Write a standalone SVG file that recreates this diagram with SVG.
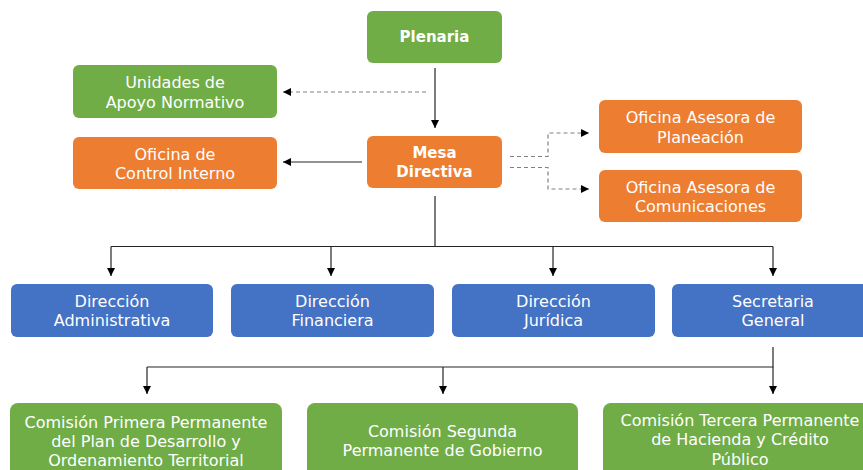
<svg xmlns="http://www.w3.org/2000/svg" width="863" height="470" viewBox="0 0 863 470">
<style>
.g{fill:#70AD47}.o{fill:#ED7D31}.b{fill:#4472C4}
text{font-family:"DejaVu Sans","Liberation Sans",sans-serif;font-size:16px;fill:#fff;text-anchor:middle;dominant-baseline:central}
.bold{font-weight:bold;font-size:15px}
.s{fill:none;stroke:#262626;stroke-width:1.2}
.d{fill:none;stroke:#808080;stroke-width:1.2;stroke-dasharray:4 3}
</style>
<defs>
<marker id="ah" viewBox="0 0 10 10" refX="10" refY="5" markerWidth="8" markerHeight="8" markerUnits="userSpaceOnUse" orient="auto"><path d="M0,0L10,5L0,10z" fill="#000"/></marker>
</defs>
<rect width="863" height="470" fill="#fff"/>
<g id="connectors">
<path class="s" d="M435,68V128" marker-end="url(#ah)"/>
<path class="d" d="M426,92H283" marker-end="url(#ah)"/>
<path class="s" d="M362,162H283" marker-end="url(#ah)"/>
<path class="d" d="M510,156.5H548V133H589" marker-end="url(#ah)"/>
<path class="d" d="M510,167.5H548V189H589" marker-end="url(#ah)"/>
<path class="s" d="M435,196V246.5"/>
<path class="s" d="M111,246.5H773"/>
<path class="s" d="M111,246.5V276" marker-end="url(#ah)"/>
<path class="s" d="M331,246.5V276" marker-end="url(#ah)"/>
<path class="s" d="M553,246.5V276" marker-end="url(#ah)"/>
<path class="s" d="M773,246.5V276" marker-end="url(#ah)"/>
<path class="s" d="M773,347V367H147"/>
<path class="s" d="M147,367V394" marker-end="url(#ah)"/>
<path class="s" d="M443,367V394" marker-end="url(#ah)"/>
<path class="s" d="M773,367V394" marker-end="url(#ah)"/>
</g>
<g id="plenaria"><rect class="g" x="367" y="11" width="135" height="52" rx="6"/><text class="bold" x="434.5" y="37">Plenaria</text></g>
<g id="unidades"><rect class="g" x="73" y="65" width="204" height="53" rx="6"/><text x="175" y="82.5">Unidades de</text><text x="175" y="102">Apoyo Normativo</text></g>
<g id="control"><rect class="o" x="73" y="137" width="204" height="52" rx="6"/><text x="175" y="154">Oficina de</text><text x="175" y="173">Control Interno</text></g>
<g id="mesa"><rect class="o" x="367" y="136" width="135" height="52" rx="6"/><text class="bold" x="434.5" y="153">Mesa</text><text class="bold" x="434.5" y="172">Directiva</text></g>
<g id="planeacion"><rect class="o" x="599" y="100" width="203" height="53" rx="6"/><text x="700.5" y="117">Oficina Asesora de</text><text x="700.5" y="137">Planeación</text></g>
<g id="comunicaciones"><rect class="o" x="599" y="170" width="203" height="52" rx="6"/><text x="700.5" y="187">Oficina Asesora de</text><text x="700.5" y="206">Comunicaciones</text></g>
<g id="admin"><rect class="b" x="11" y="284" width="202" height="53" rx="6"/><text x="112" y="301">Dirección</text><text x="112" y="320">Administrativa</text></g>
<g id="financiera"><rect class="b" x="231" y="284" width="203" height="53" rx="6"/><text x="332.5" y="301">Dirección</text><text x="332.5" y="320">Financiera</text></g>
<g id="juridica"><rect class="b" x="452" y="284" width="203" height="53" rx="6"/><text x="553.5" y="301">Dirección</text><text x="553.5" y="320">Jurídica</text></g>
<g id="secretaria"><rect class="b" x="672" y="284" width="210" height="53" rx="6"/><text x="773" y="301">Secretaria</text><text x="773" y="320">General</text></g>
<g id="primera"><rect class="g" x="10" y="403" width="272" height="80" rx="8"/><text x="146" y="422">Comisión Primera Permanente</text><text x="146" y="441">del Plan de Desarrollo y</text><text x="146" y="460">Ordenamiento Territorial</text></g>
<g id="segunda"><rect class="g" x="307" y="403" width="271" height="80" rx="8"/><text x="442.5" y="431">Comisión Segunda</text><text x="442.5" y="450">Permanente de Gobierno</text></g>
<g id="tercera"><rect class="g" x="603" y="403" width="280" height="80" rx="8"/><text x="740" y="420">Comisión Tercera Permanente</text><text x="740" y="439">de Hacienda y Crédito</text><text x="740" y="459">Público</text></g>
</svg>
